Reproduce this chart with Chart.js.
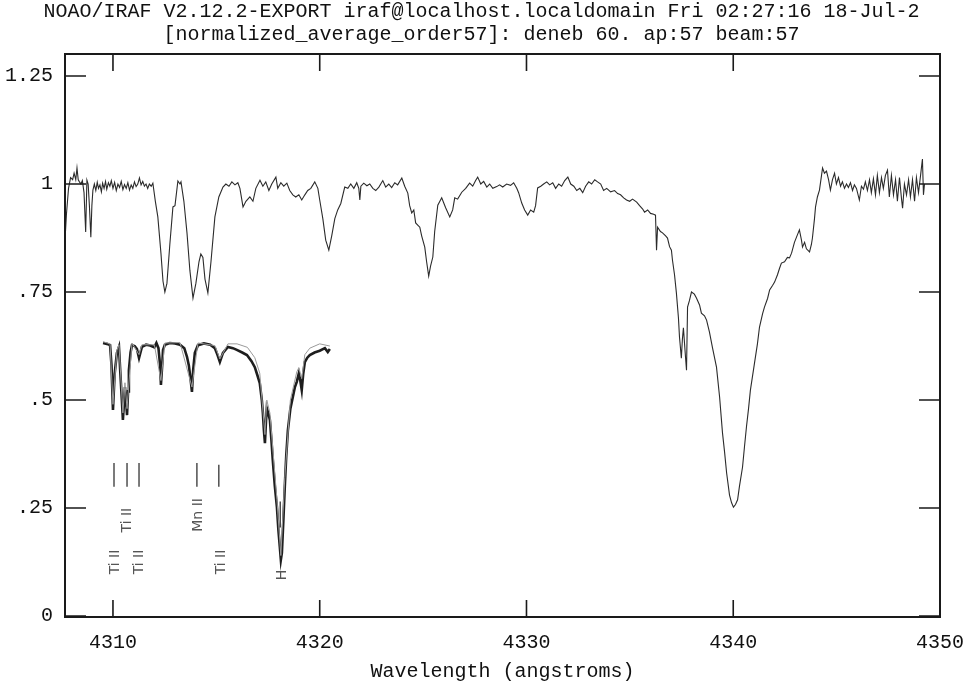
<!DOCTYPE html>
<html><head><meta charset="utf-8">
<script src="https://cdn.jsdelivr.net/npm/chart.js@4.4.1/dist/chart.umd.min.js"></script>
<style>html,body{margin:0;padding:0;background:#fff;}</style>
</head><body>
<canvas id="c" width="963" height="691"></canvas>
<script>
const titleLines = ['NOAO/IRAF V2.12.2-EXPORT iraf@localhost.localdomain Fri 02:27:16 18-Jul-2',
                    '[normalized_average_order57]: deneb 60. ap:57 beam:57'];
const xAxisLabel = 'Wavelength (angstroms)';
const xTickValues = [4310, 4320, 4330, 4340, 4350];
const yTickValues = [0, 0.25, 0.5, 0.75, 1, 1.25];
const yTickLabels = ['0', '.25', '.5', '.75', '1', '1.25'];

const wave = [4307.68,4307.75,4307.85,4307.95,4308.05,4308.12,4308.2,4308.26,4308.32,4308.38,4308.45,4308.52,4308.6,4308.68,4308.74,4308.8,4308.86,4308.93,4308.98,4309.03,4309.1,4309.17,4309.24,4309.3,4309.37,4309.44,4309.5,4309.57,4309.64,4309.7,4309.78,4309.85,4309.92,4310.0,
4310.08,4310.16,4310.24,4310.32,4310.4,4310.48,4310.56,4310.64,4310.72,4310.8,4310.88,4310.96,4311.04,4311.12,4311.2,4311.28,4311.36,4311.44,4311.52,4311.6,4311.68,4311.76,4311.85,4311.93,
4312.05,4312.17,4312.32,4312.42,4312.51,4312.61,4312.75,4312.9,4313.0,4313.14,4313.24,4313.29,4313.43,4313.58,4313.72,4313.87,4314.01,4314.16,4314.25,4314.35,4314.45,4314.59,4314.74,4314.93,4315.12,4315.32,
4315.46,4315.61,4315.75,4315.9,4316.04,4316.14,4316.29,4316.43,4316.62,4316.77,4316.91,4317.11,4317.25,4317.39,4317.54,4317.68,4317.88,4317.97,4318.12,4318.26,4318.41,4318.55,4318.7,4318.84,4318.99,4319.13,4319.28,4319.42,4319.57,4319.76,4319.91,
4320.0,4320.15,4320.29,4320.44,4320.58,4320.73,4320.87,4321.02,4321.21,4321.36,4321.5,4321.65,4321.79,4321.89,4321.94,4321.99,4322.13,4322.28,4322.42,4322.57,4322.71,4322.86,4323.05,4323.19,4323.34,4323.48,4323.63,4323.77,4323.97,4324.11,
4324.26,4324.35,4324.45,4324.55,4324.64,4324.74,4324.84,4324.93,4325.08,4325.17,4325.27,4325.36,4325.47,4325.56,4325.71,4325.9,4326.09,4326.29,4326.43,4326.53,4326.67,4326.87,4327.06,4327.25,4327.4,4327.54,4327.64,4327.79,4327.93,4328.08,
4328.22,4328.37,4328.56,4328.7,4328.85,4329.04,4329.23,4329.38,4329.53,4329.62,4329.77,4329.91,4330.06,4330.2,4330.35,4330.44,4330.54,4330.69,4330.83,4330.98,4331.12,4331.27,4331.41,4331.56,4331.7,4331.85,4332.0,4332.14,4332.29,4332.43,
4332.58,4332.72,4332.86,4333.01,4333.15,4333.3,4333.44,4333.59,4333.73,4333.88,4334.07,4334.26,4334.41,4334.55,4334.7,4334.84,4334.99,4335.13,4335.33,4335.47,4335.62,4335.71,4335.86,4336.0,4336.15,4336.24,4336.29,4336.34,4336.48,4336.58,
4336.73,4336.82,4336.92,4337.01,4337.06,4337.16,4337.25,4337.35,4337.4,4337.49,4337.54,4337.59,4337.69,4337.74,4337.79,4337.88,4337.98,4338.12,4338.22,4338.37,4338.46,4338.61,4338.71,4338.85,4339.0,4339.19,4339.34,4339.48,4339.58,4339.68,
4339.82,4339.92,4340.01,4340.11,4340.21,4340.3,4340.45,4340.54,4340.64,4340.74,4340.83,4341.03,4341.17,4341.27,4341.42,4341.51,4341.66,4341.76,4341.9,4342.0,4342.14,4342.24,4342.33,4342.48,4342.62,4342.72,4342.82,4342.96,4343.06,4343.2,
4343.3,4343.35,4343.45,4343.54,4343.69,4343.78,4343.83,4343.93,4343.98,4344.07,4344.17,4344.27,4344.32,4344.41,4344.51,4344.61,4344.7,4344.8,4344.9,4344.99,4345.09,4345.19,4345.28,4345.38,4345.48,4345.57,4345.67,4345.77,4345.86,4345.96,
4346.1,4346.2,4346.3,4346.39,4346.49,4346.59,4346.68,4346.78,4346.88,4346.97,4347.07,4347.17,4347.26,4347.36,4347.46,4347.55,4347.65,4347.75,4347.85,4347.94,4348.04,4348.14,4348.19,4348.28,4348.38,4348.48,4348.57,4348.67,4348.77,4348.86,
4348.96,4349.06,4349.15,4349.2,4349.25];

const flux = [0.87,0.93,0.99,1.015,1.01,1.025,1.01,1.037,1.01,1.005,1.0,1.008,0.98,0.889,1.009,1.0,0.95,0.877,0.95,0.986,1.0,0.985,1.004,0.99,0.998,0.982,1.002,0.99,1.006,0.988,1.003,0.995,1.008,0.99,
1.004,0.985,1.0,0.992,1.006,0.987,0.999,0.99,1.003,0.986,0.998,0.99,1.005,0.994,1.0,1.014,0.998,1.006,0.995,1.0,0.99,1.0,0.995,1.002,
0.96,0.924,0.84,0.775,0.75,0.77,0.86,0.947,0.95,1.007,1.0,1.005,0.96,0.887,0.8,0.736,0.77,0.82,0.838,0.83,0.78,0.748,0.82,0.924,0.97,0.993,
1.0,0.995,1.005,0.998,1.003,0.99,0.947,0.96,0.97,0.96,0.99,1.009,0.995,1.005,0.985,1.0,1.016,0.99,1.003,0.995,1.002,0.985,0.975,0.97,0.975,0.963,0.975,0.985,0.99,1.005,0.99,
0.963,0.92,0.87,0.847,0.88,0.92,0.94,0.955,0.993,0.99,1.0,0.99,1.003,0.99,0.963,0.995,1.002,0.996,1.0,0.99,0.985,0.993,1.008,0.993,1.0,0.992,1.003,0.998,1.014,0.995,
0.979,0.95,0.933,0.94,0.91,0.905,0.9,0.88,0.854,0.82,0.787,0.81,0.831,0.89,0.951,0.968,0.945,0.924,0.94,0.968,0.965,0.981,0.99,1.002,0.995,1.008,1.016,1.0,1.006,0.993,
1.0,0.99,0.994,0.998,0.993,1.0,0.997,1.003,0.99,0.98,0.956,0.94,0.928,0.94,0.935,0.95,0.991,0.995,1.0,1.005,0.998,1.003,0.99,1.0,0.995,1.008,1.016,1.0,0.995,0.985,
0.99,0.98,0.995,1.005,1.0,1.01,1.005,1.0,0.985,0.99,0.982,0.985,0.978,0.975,0.968,0.963,0.96,0.965,0.958,0.95,0.942,0.935,0.94,0.932,0.93,0.928,0.847,0.9,0.89,0.887,
0.88,0.875,0.855,0.847,0.824,0.79,0.748,0.69,0.646,0.597,0.64,0.667,0.6,0.569,0.715,0.73,0.75,0.745,0.736,0.72,0.701,0.695,0.685,0.657,0.62,0.576,0.507,0.424,0.38,0.331,
0.28,0.262,0.252,0.258,0.269,0.3,0.345,0.39,0.438,0.48,0.523,0.586,0.63,0.669,0.7,0.715,0.735,0.755,0.765,0.773,0.79,0.805,0.817,0.82,0.83,0.829,0.84,0.865,0.877,0.894,
0.87,0.854,0.865,0.85,0.843,0.86,0.875,0.92,0.947,0.97,0.986,1.02,1.037,1.025,1.03,1.01,0.986,1.01,1.025,1.0,1.015,0.995,1.005,0.99,1.0,0.992,1.003,0.985,0.998,0.99,
0.963,0.995,0.988,1.005,0.985,1.01,0.98,1.012,0.975,1.02,0.98,1.015,0.99,1.02,1.032,0.97,1.02,0.975,1.01,0.96,1.015,0.965,0.944,1.0,0.975,1.01,0.97,1.01,0.96,1.015,
0.98,1.02,1.058,0.975,1.0];

// comparison spectrum shown in the lower-left inset (dark trace and light trace)
const insetWave = [4309.52,4309.7,4309.86,4309.93,4310.0,4310.08,4310.19,4310.29,4310.36,4310.43,4310.48,4310.53,4310.58,4310.63,4310.68,4310.73,4310.77,4310.85,4310.92,4311.05,4311.16,4311.26,4311.33,4311.4,4311.6,4311.8,4312.0,4312.1,4312.2,4312.28,4312.32,4312.38,4312.42,4312.51,4312.75,4313.0,4313.24,4313.45,4313.58,4313.67,4313.75,4313.82,4313.88,4313.96,4314.11,4314.4,4314.7,4314.93,4315.05,4315.17,4315.32,4315.56,4315.8,4315.99,4316.25,4316.48,4316.7,4316.86,4317.0,4317.1,4317.2,4317.25,4317.3,4317.35,4317.4,4317.44,4317.52,4317.59,4317.66,4317.73,4317.83,4317.93,4318.0,4318.07,4318.12,4318.17,4318.24,4318.31,4318.38,4318.46,4318.58,4318.7,4318.8,4318.89,4318.99,4319.06,4319.13,4319.2,4319.28,4319.4,4319.52,4319.75,4320.0,4320.25,4320.39,4320.49];
const insetFlux = [0.632,0.63,0.627,0.58,0.477,0.56,0.609,0.623,0.56,0.5,0.454,0.49,0.53,0.5,0.465,0.52,0.569,0.61,0.627,0.625,0.618,0.597,0.61,0.623,0.628,0.626,0.622,0.632,0.62,0.58,0.535,0.58,0.616,0.628,0.632,0.631,0.628,0.62,0.6,0.58,0.55,0.519,0.57,0.609,0.627,0.631,0.628,0.62,0.605,0.588,0.609,0.623,0.62,0.616,0.61,0.604,0.59,0.576,0.555,0.539,0.5,0.47,0.43,0.4,0.45,0.481,0.468,0.454,0.41,0.361,0.3,0.252,0.2,0.16,0.13,0.146,0.22,0.299,0.37,0.43,0.48,0.507,0.53,0.542,0.562,0.545,0.523,0.56,0.588,0.598,0.604,0.61,0.614,0.62,0.611,0.618];
const insetWave2 = [4309.52,4309.86,4310.0,4310.19,4310.29,4310.48,4310.58,4310.68,4310.92,4311.26,4311.4,4312.0,4312.32,4312.51,4313.24,4313.82,4314.11,4314.93,4315.17,4315.56,4316.0,4316.5,4316.86,4317.1,4317.35,4317.44,4317.59,4317.93,4318.12,4318.31,4318.58,4318.89,4318.99,4319.13,4319.28,4319.52,4320.0,4320.49];
const insetFlux2 = [0.635,0.63,0.49,0.615,0.628,0.47,0.54,0.48,0.632,0.605,0.628,0.628,0.545,0.632,0.633,0.53,0.632,0.626,0.595,0.63,0.63,0.622,0.598,0.562,0.42,0.5,0.47,0.27,0.14,0.32,0.5,0.565,0.575,0.55,0.605,0.62,0.63,0.625];

// line-identification marks in the inset
const markWave = [4310.05, 4310.68, 4311.26, 4314.06, 4315.12, 4318.09];
const markTop = [0.354, 0.354, 0.354, 0.354, 0.35, 0.265];
const markBottom = [0.299, 0.299, 0.299, 0.299, 0.299, 0.205];
const idText = ['Ti II', 'Mn II', 'Ti II', 'Ti II', 'Ti II', 'H'];
const idWave = [4310.72, 4314.11, 4310.12, 4311.28, 4315.26, 4318.17];
const idFlux = [0.222, 0.234, 0.125, 0.125, 0.125, 0.095];

const MONO = '"Liberation Mono", "DejaVu Sans Mono", monospace';

function pts(xs, ys) { return xs.map((x, i) => ({x: x, y: ys[i]})); }

const irafPlugin = {
  id: 'iraf',
  afterDatasetsDraw(chart) {
    const {ctx, chartArea: a, scales: {x, y}} = chart;
    ctx.save();
    ctx.strokeStyle = '#333';
    ctx.lineWidth = 1.3;
    markWave.forEach((w, i) => {
      const px = x.getPixelForValue(w);
      ctx.beginPath();
      ctx.moveTo(px, y.getPixelForValue(markTop[i]));
      ctx.lineTo(px, y.getPixelForValue(markBottom[i]));
      ctx.stroke();
    });
    ctx.fillStyle = '#555';
    ctx.font = '14px "DejaVu Sans", sans-serif';
    ctx.textAlign = 'center';
    ctx.textBaseline = 'middle';
    idText.forEach((t, i) => {
      ctx.save();
      ctx.translate(x.getPixelForValue(idWave[i]), y.getPixelForValue(idFlux[i]));
      ctx.rotate(-Math.PI / 2);
      ctx.fillText(t, 0, 0);
      ctx.restore();
    });
    ctx.strokeStyle = '#1a1a1a';
    ctx.lineWidth = 2;
    ctx.strokeRect(a.left, a.top, a.right - a.left, a.bottom - a.top);
    ctx.lineWidth = 1.6;
    ctx.beginPath();
    xTickValues.forEach(v => {
      const px = x.getPixelForValue(v);
      ctx.moveTo(px, a.bottom); ctx.lineTo(px, a.bottom - 17);
      ctx.moveTo(px, a.top); ctx.lineTo(px, a.top + 17);
    });
    yTickValues.forEach(v => {
      const py = y.getPixelForValue(v);
      ctx.moveTo(a.left, py); ctx.lineTo(a.left + 21, py);
      ctx.moveTo(a.right, py); ctx.lineTo(a.right - 21, py);
    });
    ctx.stroke();
    ctx.restore();
  }
};

new Chart(document.getElementById('c'), {
  type: 'line',
  data: {
    datasets: [
      {data: pts(wave, flux), borderColor: '#2b2b2b', borderWidth: 1.1, pointRadius: 0, order: 0, clip: 0},
      {data: pts(insetWave2, insetFlux2), borderColor: '#9a9a9a', borderWidth: 1, pointRadius: 0, order: 1, clip: 0},
      {data: pts(insetWave, insetFlux), borderColor: '#1e1e1e', borderWidth: 2.6, pointRadius: 0, order: 2, clip: 0}
    ]
  },
  options: {
    responsive: false,
    animation: false,
    devicePixelRatio: 1,
    layout: {padding: 0},
    elements: {line: {tension: 0}},
    plugins: {
      legend: {display: false},
      tooltip: {enabled: false},
      title: {
        display: true, text: titleLines, color: '#111',
        font: {family: MONO, size: 20, weight: 'normal', lineHeight: 1.15},
        padding: {top: 0, bottom: 8}
      }
    },
    scales: {
      x: {
        type: 'linear', min: 4307.68, max: 4350,
        afterBuildTicks: s => { s.ticks = xTickValues.map(v => ({value: v})); },
        afterFit: s => { s.height = 74; s.paddingLeft = 0; s.paddingRight = 23; },
        grid: {display: false, drawTicks: false},
        border: {display: false},
        ticks: {font: {family: MONO, size: 20}, color: '#111', padding: 14, maxRotation: 0, autoSkip: false,
                callback: v => String(v)},
        title: {display: true, text: xAxisLabel, color: '#111', font: {family: MONO, size: 20, lineHeight: 1.2},
                padding: {top: 0, bottom: 7}}
      },
      y: {
        type: 'linear', min: -0.0023, max: 1.301,
        afterBuildTicks: s => { s.ticks = yTickValues.map(v => ({value: v})); },
        afterFit: s => { s.width = 65; },
        grid: {display: false, drawTicks: false},
        border: {display: false},
        ticks: {font: {family: MONO, size: 20}, color: '#111', padding: 12, autoSkip: false,
                callback: v => { const i = yTickValues.indexOf(v); return i >= 0 ? yTickLabels[i] : ''; }}
      }
    }
  },
  plugins: [irafPlugin]
});
</script>
</body></html>
